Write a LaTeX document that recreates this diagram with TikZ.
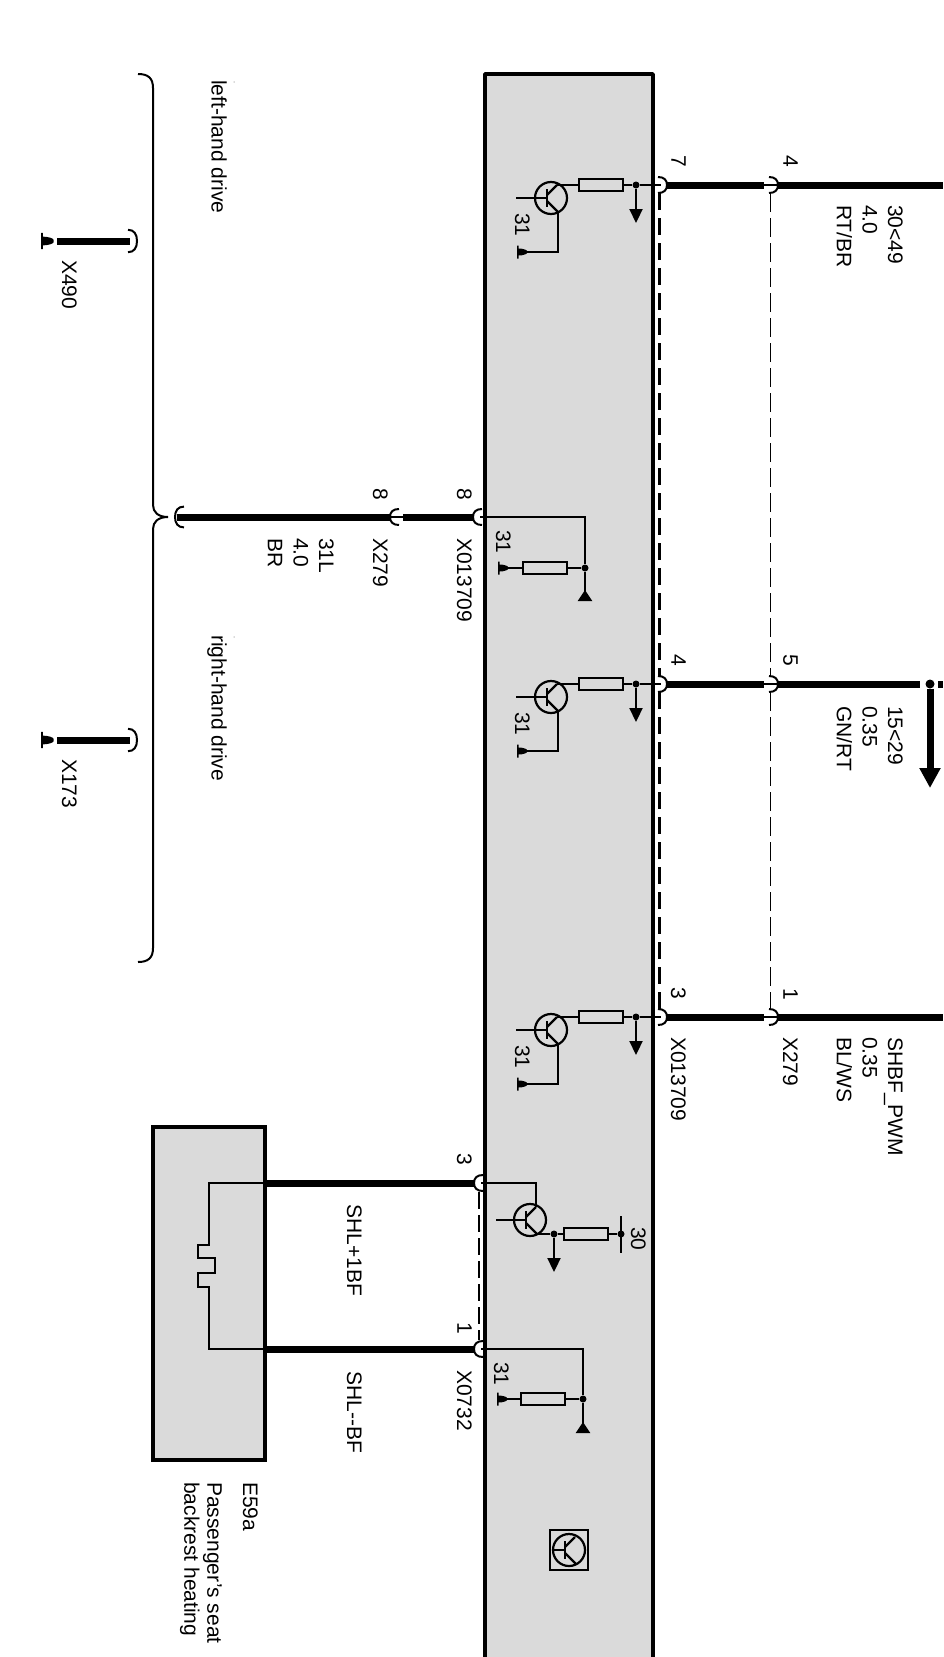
\documentclass[tikz,border=0pt]{standalone}
\usepackage{fontspec}
\setmainfont{Liberation Sans}
\usetikzlibrary{arrows.meta}
\definecolor{boxgray}{HTML}{DADADA}
\tikzset{> = { Triangle[length = 14pt, width = 13pt] }}
\tikzset{
	lbl/.style = {rotate = -90, anchor = north west, inner sep = 0pt, align = left, font = \fontsize{21}{25.6}\selectfont},
	wire/.style = {line width = 7pt},
	signal/.style = {line width = 2.2pt},
	module/.style = {line width = 4pt, fill = boxgray},
	res/.style = {draw, rectangle, fill = boxgray, line width = 2.4pt, minimum width = 44pt, minimum height = 12pt, inner sep = 0pt},
	ring/.style = {draw, circle, line width = 2.2pt, minimum size = 32pt, inner sep = 0pt},
	jdot/.style = {circle, fill = black, minimum size = 7pt, inner sep = 0pt},
	shield/.style = {dash pattern = on 17pt off 8pt},
	npn/.pic = {
		\node [ring] (-ring) at (0, 0) {};
		\coordinate (-b) at (-4, 0);
		\coordinate (-c) at (6, -13);
		\coordinate (-e) at (7, 14);
		\draw [line width = 2.8pt] (-4, -9) -- (-4, 9);
		\draw [signal] (-4, -3) -- (-c);
		\draw [signal] (-4, 3) -- (-e);
	},
	gnd/.pic = {
		\fill (0, -6.5) -- (1.5, -6.5) -- (1.5, -3.5) .. controls (6, -3.5) and (10, -2) .. (10, -1) -- (10, 1) .. controls (10, 2) and (6, 3.5) .. (1.5, 3.5) -- (1.5, 6.5) -- (0, 6.5) -- cycle;
	},
	plug/.pic = {
		\draw [line width = 2pt] (-5, -8) .. controls (1, -8) and (4, -5) .. (4, 0) .. controls (4, 5) and (1, 8) .. (-5, 8);
	},
}

\begin{document}
\begin{tikzpicture}[x = 1pt, y = -1pt]
	\useasboundingbox (0, 0) rectangle (943, 1657);

	\fill [boxgray] (485, 74) rectangle (653, 1657);
	\draw [line width = 3.6pt, line join = round] (485, 1657) -- (485, 74) -- (653, 74) -- (653, 1657);

	\foreach \k/\wy/\wtop in {a/185/7, b/684/4, c/1017/3} {
		\pic (t\k) at (551, \wy + 13) {npn};
		\node [res] (r\k) at (601, \wy) {};
		\node [jdot] (d\k) at (636, \wy) {};
		\coordinate (p\k) at (661, \wy);
		\coordinate (s\k) at (516, \wy + 13);
		\coordinate (g\k) at (517, \wy + 67);
		\coordinate (a\k) at (636, \wy + 38);
		\coordinate (w\k) at (667, \wy);
		\coordinate (v\k) at (764, \wy);
		\coordinate (u\k) at (778, \wy);
		\draw [signal] (s\k) -- (t\k-b);
		\draw [signal] (t\k-c) |- (r\k);
		\draw [signal] (r\k) -- (d\k) -- (p\k);
		\draw [signal, ->] (d\k) -- (a\k);
		\draw [signal] (t\k-e) |- (g\k);
		\pic at (g\k) {gnd};
		\pic at (663, \wy) {plug};
		\pic at (774, \wy) {plug};
		\draw [wire] (w\k) -- (v\k);
		\draw [signal] (v\k) -- (u\k);
		\node [lbl] (m\k) at (530, \wy + 28) {31};
		\node [lbl] (n\k) at (686, \wy - 30) {\wtop};
	}

	\coordinate (endA) at (943, 185);
	\coordinate (endC) at (943, 1017);
	\coordinate (endB) at (920, 684);
	\draw [wire] (ua) -- (endA);
	\draw [wire] (uc) -- (endC);
	\draw [wire] (ub) -- (endB);

	\node [jdot, minimum size = 9pt] (split) at (930, 684) {};
	\coordinate (stub) at (938, 684);
	\coordinate (stubEnd) at (943, 684);
	\coordinate (down) at (930, 788);
	\draw [wire] (stub) -- (stubEnd);
	\draw [wire, -{Triangle[length = 20pt, width = 20pt]}] (split) -- (down);

	\draw [line width = 2.8pt, shield] (659.5, 193) -- (659.5, 676) (659.5, 692) -- (659.5, 1009);
	\draw [line width = 1.6pt, dash pattern = on 19pt off 6pt] (770.5, 193) -- (770.5, 676) (770.5, 692) -- (770.5, 1009);

	\node [lbl] (topPin) at (798, 155) {4};
	\node [lbl] (midPin) at (798, 654) {5};
	\node [lbl] (lowPin) at (798, 988) {1};
	\node [lbl] (lineA) at (903, 205) {30<49\\4.0\\RT/BR};
	\node [lbl] (lineB) at (903, 706) {15<29\\0.35\\GN/RT};
	\node [lbl] (lineC) at (903, 1037) {SHBF\_PWM\\0.35\\BL/WS};
	\node [lbl] (connA) at (686, 1037) {X013709};
	\node [lbl] (connB) at (798, 1037) {X279};

	\coordinate (gw) at (177, 517);
	\coordinate (gx) at (390, 517);
	\coordinate (gy) at (403, 517);
	\coordinate (gz) at (473, 517);
	\coordinate (gu) at (480, 517);
	\coordinate (gc) at (585, 517);
	\coordinate (gt) at (585, 601);
	\coordinate (gs) at (498, 568);
	\node [jdot] (gd) at (585, 568) {};
	\node [res] (gr) at (545, 568) {};
	\draw [wire] (gw) -- (gx);
	\draw [signal] (gx) -- (gy);
	\draw [wire] (gy) -- (gz);
	\draw [signal] (gu) -- (gc) -- (gd);
	\draw [signal, -{Triangle[reversed, length = 11pt, width = 14pt]}] (gd) -- (gt);
	\draw [signal] (gd) -- (gr) -- (gs);
	\pic at (gs) {gnd};
	\pic [xscale = -1] at (477, 517) {plug};
	\pic [xscale = -1] at (394, 517) {plug};
	\pic [xscale = -1, yscale = 1.3] at (179, 517) {plug};
	\node [lbl] (gm) at (511, 530) {31};
	\node [lbl] (gp) at (472, 488) {8};
	\node [lbl] (gq) at (388, 488) {8};
	\node [lbl] (gconnA) at (472, 538) {X013709};
	\node [lbl] (gconnB) at (388, 538) {X279};
	\node [lbl] (gline) at (334, 538) {31L\\4.0\\BR};

	\draw [line width = 2pt] (138, 74) .. controls (148, 74) and (153, 78) .. (153, 88) -- (153, 505) .. controls (153, 512) and (158, 517) .. (168, 517) .. controls (158, 517) and (153, 522) .. (153, 529) -- (153, 948) .. controls (153, 958) and (148, 962) .. (138, 962);
	\node [lbl] (lhd) at (227, 80) {left-hand drive};
	\node [lbl] (rhd) at (227, 635) {right-hand drive};
	\node [lbl, font = \fontsize{5}{5}\selectfont, text = gray] (lhdMark) at (235, 81) {''};
	\node [lbl, font = \fontsize{5}{5}\selectfont, text = gray] (rhdMark) at (235, 636) {''};

	\foreach \k/\gy/\gname in {l/241/X490, r/740/X173} {
		\coordinate (e\k) at (41, \gy);
		\coordinate (f\k) at (57, \gy);
		\coordinate (h\k) at (130, \gy);
		\pic [scale = 1.25] at (e\k) {gnd};
		\draw [wire] (f\k) -- (h\k);
		\pic [yscale = 1.4] at (133, \gy) {plug};
		\node [lbl] (x\k) at (77, \gy + 19) {\gname};
	}

	\draw [module] (153, 1127) rectangle (265, 1460);
	\coordinate (hp) at (265, 1183);
	\coordinate (hn) at (265, 1349);
	\coordinate (wp) at (474, 1183);
	\coordinate (wn) at (474, 1349);
	\coordinate (ip) at (481, 1183);
	\coordinate (in) at (481, 1349);
	\draw [wire] (hp) -- (wp);
	\draw [wire] (hn) -- (wn);
	\pic [xscale = -1] at (478, 1183) {plug};
	\pic [xscale = -1] at (478, 1349) {plug};
	\draw [line width = 2.8pt, dash pattern = on 17pt off 6pt] (479, 1192) -- (479, 1340);
	\draw [signal] (hp) -- (209, 1183) -- (209, 1245) -- (198, 1245) -- (198, 1258) -- (215, 1258) -- (215, 1273) -- (198, 1273) -- (198, 1287) -- (209, 1287) -- (209, 1349) -- (hn);

	\pic (tp) at (530, 1220) {npn};
	\node [jdot] (dp) at (554, 1234) {};
	\node [res] (rp) at (586, 1234) {};
	\node [jdot] (vp) at (621, 1234) {};
	\coordinate (sp) at (496, 1220);
	\coordinate (ap) at (554, 1272);
	\coordinate (bpA) at (621, 1216);
	\coordinate (bpB) at (621, 1253);
	\draw [signal] (ip) -| (tp-c);
	\draw [signal] (sp) -- (tp-b);
	\draw [signal] (tp-e) -- (dp) -- (rp) -- (vp);
	\draw [signal, ->] (dp) -- (ap);
	\draw [signal] (bpA) -- (bpB);

	\node [jdot] (dn) at (583, 1399) {};
	\node [res] (rn) at (543, 1399) {};
	\coordinate (cn) at (583, 1349);
	\coordinate (an) at (583, 1433);
	\coordinate (sn) at (497, 1399);
	\draw [signal] (in) -- (cn) -- (dn);
	\draw [signal, -{Triangle[reversed, length = 11pt, width = 14pt]}] (dn) -- (an);
	\draw [signal] (dn) -- (rn) -- (sn);
	\pic at (sn) {gnd};

	\node [lbl] (mn) at (509, 1362) {31};
	\node [lbl] (mp) at (646, 1227) {30};
	\node [lbl] (pinP) at (472, 1153) {3};
	\node [lbl] (pinN) at (472, 1322) {1};
	\node [lbl] (connH) at (472, 1370) {X0732};
	\node [lbl] (lineP) at (362, 1204) {SHL+1BF};
	\node [lbl] (lineN) at (362, 1371) {SHL-{}-BF};
	\node [lbl] (hname) at (258, 1482) {E59a};
	\node [lbl, font = \fontsize{21}{23}\selectfont] (htext) at (222, 1482) {Passenger's seat\\backrest heating};

	\node [draw, rectangle, line width = 1.8pt, minimum width = 38pt, minimum height = 40pt, inner sep = 0pt] (symBox) at (569, 1550) {};
	\pic (sym) at (569, 1550) {npn};
	\draw [signal] (sym-ring.west) -- (sym-b);
\end{tikzpicture}
\end{document}
